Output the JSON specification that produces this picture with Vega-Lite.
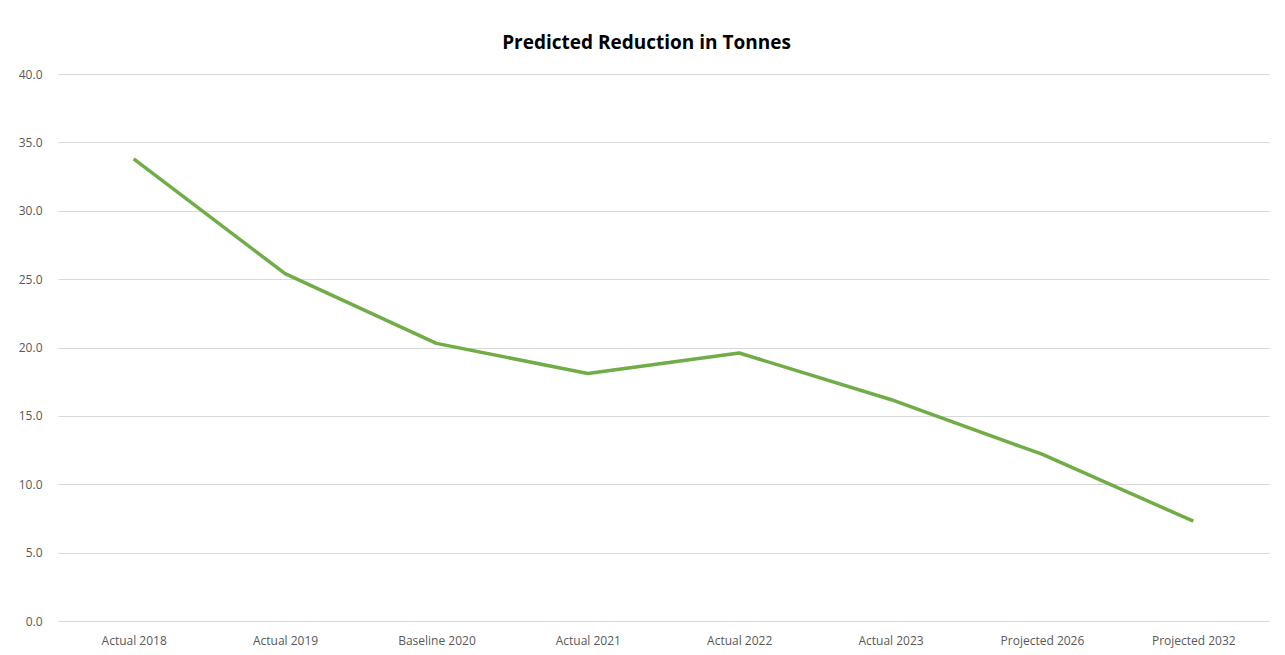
{
  "$schema": "https://vega.github.io/schema/vega-lite/v6.json",
  "autosize": {"type": "none"},
  "padding": {"left": 58, "top": 74, "right": 16, "bottom": 34},
  "width": 1211,
  "height": 547,
  "background": "white",
  "title": {
    "text": "Predicted Reduction in Tonnes",
    "font": "Open Sans",
    "fontSize": 19,
    "fontWeight": "bold",
    "color": "#000000",
    "anchor": "middle",
    "dx": -17,
    "offset": 15
  },
  "data": {
    "values": [
      {"category": "Actual 2018", "value": 33.8},
      {"category": "Actual 2019", "value": 25.4},
      {"category": "Baseline 2020", "value": 20.3},
      {"category": "Actual 2021", "value": 18.1},
      {"category": "Actual 2022", "value": 19.6},
      {"category": "Actual 2023", "value": 16.2},
      {"category": "Projected 2026", "value": 12.2},
      {"category": "Projected 2032", "value": 7.3}
    ]
  },
  "config": {
    "view": {"stroke": null},
    "axis": {"labelFont": "Open Sans", "labelFontSize": 12, "labelColor": "#595959"}
  },
  "mark": {"type": "line", "color": "#70AD47", "strokeWidth": 3.5, "strokeJoin": "round"},
  "encoding": {
    "x": {
      "field": "category",
      "type": "nominal",
      "sort": null,
      "scale": {"type": "point", "padding": 0.5},
      "axis": {"title": null, "labelAngle": 0, "ticks": false, "domain": false, "grid": false, "labelPadding": 14}
    },
    "y": {
      "field": "value",
      "type": "quantitative",
      "scale": {"domain": [0, 40], "nice": false},
      "axis": {
        "title": null,
        "values": [0, 5, 10, 15, 20, 25, 30, 35, 40],
        "format": ".1f",
        "ticks": false,
        "domain": false,
        "gridColor": "#D9D9D9",
        "gridWidth": 1,
        "labelPadding": 16
      }
    }
  }
}
